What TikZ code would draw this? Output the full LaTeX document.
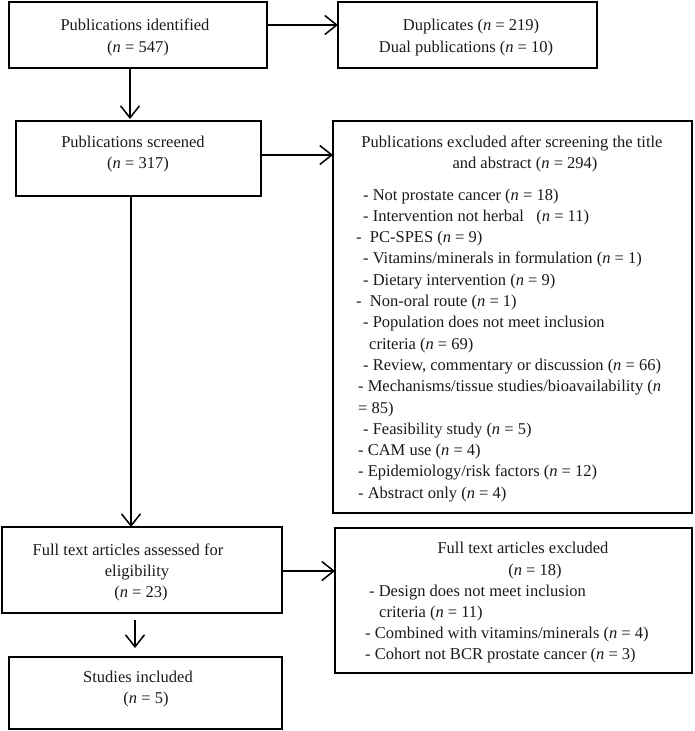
\documentclass[tikz,border=0pt]{standalone}
\usepackage{fontspec}
\setmainfont{Liberation Serif}
\usetikzlibrary{arrows.meta}
\newcommand{\nn}[1]{(\textit{n} = #1)}
\begin{document}
\begin{tikzpicture}[x=1pt,y=-1pt,
  box/.style={draw, line width=1.6pt, inner sep=0pt, outer sep=0pt, anchor=north west},
  txt/.style={inner sep=0pt, font=\fontsize{16.5}{21}\selectfont, text=black!90},
  ctr/.style={txt, anchor=base},
  lft/.style={txt, anchor=base west},
  arr/.style={line width=1.5pt, -{Straight Barb[length=12pt,width=19pt,line width=1.5pt]}}]
\useasboundingbox (0,0) rectangle (694,731);
% boxes
\node[box, minimum width=258pt, minimum height=66pt] (A) at (9,2) {};
\node[box, minimum width=259pt, minimum height=66pt] (B) at (338,2) {};
\node[box, minimum width=245pt, minimum height=75pt] (C) at (16,121) {};
\node[box, minimum width=359pt, minimum height=392pt] (D) at (333,121) {};
\node[box, minimum width=280pt, minimum height=86pt] (E) at (2,527) {};
\node[box, minimum width=357pt, minimum height=145pt] (F) at (335,528) {};
\node[box, minimum width=273pt, minimum height=72pt] (G) at (9,657) {};
% texts A
\node[ctr] (a1) at (135,30) {Publications identified};
\node[ctr] (a2) at (138,52) {\nn{547}};
% B
\node[ctr] (b1) at (471,30) {Duplicates \nn{219}};
\node[ctr] (b2) at (466,52) {Dual publications \nn{10}};
% C
\node[ctr] (c1t) at (133,147) {Publications screened};
\node[ctr] (c2t) at (138,168) {\nn{317}};
% D
\node[ctr] (d0) at (512,147) {Publications excluded after screening the title};
\node[ctr] (d00) at (525,168) {and abstract \nn{294}};
\node[lft] (d1) at (363,200) {- Not prostate cancer \nn{18}};
\node[lft] (d2) at (363,221.3) {- Intervention not herbal\ \ \ \nn{11}};
\node[lft] (d3) at (356,242.6) {-\ \ PC-SPES \nn{9}};
\node[lft] (d4) at (363,263.9) {- Vitamins/minerals in formulation \nn{1}};
\node[lft] (d5) at (363,285.2) {- Dietary intervention \nn{9}};
\node[lft] (d6) at (356,306.5) {-\ \ Non-oral route \nn{1}};
\node[lft] (d7) at (363,327.8) {- Population does not meet inclusion};
\node[lft] (d8) at (369,349.1) {criteria \nn{69}};
\node[lft] (d9) at (363,370.4) {- Review, commentary or discussion \nn{66}};
\node[lft] (d10) at (358,391.7) {- Mechanisms/tissue studies/bioavailability (\textit{n}};
\node[lft] (d11) at (358,413) {= 85)};
\node[lft] (d12) at (363,434.3) {- Feasibility study \nn{5}};
\node[lft] (d13) at (358,455.6) {- CAM use \nn{4}};
\node[lft] (d14) at (358,476.9) {- Epidemiology/risk factors \nn{12}};
\node[lft] (d15) at (358,498.2) {- Abstract only \nn{4}};
% E
\node[ctr] (e1) at (128,555) {Full text articles assessed for};
\node[ctr] (e2) at (137,576) {eligibility};
\node[ctr] (e3) at (141,597) {\nn{23}};
% F
\node[ctr] (f1) at (523,553) {Full text articles excluded};
\node[ctr] (f2) at (535,575) {\nn{18}};
\node[lft] (f3) at (369,596) {- Design does not meet inclusion};
\node[lft] (f4) at (379,617) {criteria \nn{11}};
\node[lft] (f5) at (365,638) {- Combined with vitamins/minerals \nn{4}};
\node[lft] (f6) at (365,659) {- Cohort not BCR prostate cancer \nn{3}};
% G
\node[ctr] (g1) at (138,682) {Studies included};
\node[ctr] (g2) at (146,703) {\nn{5}};
% connectors
\coordinate (pAB) at ([yshift=10pt]A.east);
\draw[arr] (pAB) -- (pAB -| B.west);
\coordinate (pAC) at ([xshift=-8pt]A.south);
\draw[arr, shorten >=2pt] (pAC) -- (pAC |- C.north);
\coordinate (pCD) at ([yshift=3.5pt]C.east);
\draw[arr] (pCD) -- (pCD -| D.west);
\coordinate (pCE) at ([xshift=-7.5pt]C.south);
\draw[arr] (pCE) -- (pCE |- E.north);
\coordinate (pEF) at ([yshift=-1pt]E.east);
\draw[arr] (pEF) -- (pEF -| F.west);
\coordinate (pEG) at ([xshift=-7pt]E.south);
\draw[arr, shorten <=7pt, shorten >=9pt] (pEG) -- (pEG |- G.north);
\end{tikzpicture}
\end{document}
